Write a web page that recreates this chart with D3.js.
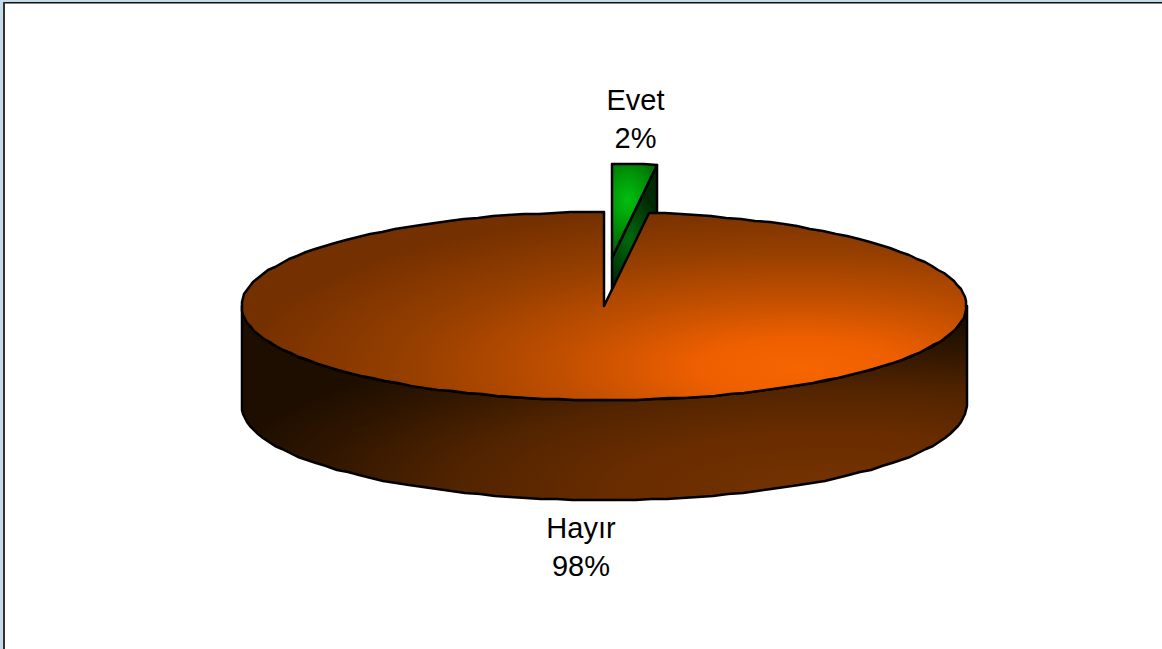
<!DOCTYPE html>
<html>
<head>
<meta charset="utf-8">
<title>Evet / Hayır</title>
<script src="https://cdn.jsdelivr.net/npm/d3@7"></script>
<style>
  html, body { margin: 0; padding: 0; background: #fff; overflow: hidden; }
  svg { display: block; }
  text { font-family: "Liberation Sans", Arial, sans-serif; font-size: 29px; fill: #000; text-anchor: middle; }
</style>
</head>
<body>
<div id="chart"></div>
<script>
// values, Evet first because it starts at 12 o'clock
const categories = ["Evet", "Hayır"];
const values = [2, 98];
const percentLabels = ["2%", "98%"];

const width = 1162;
const height = 649;

// the pie is a flattened circle, so one scale per direction
const centerX = 604, centerY = 306;
const radiusX = 362.5, radiusY = 94;
const depth = 100;
const x = d3.scaleLinear().domain([-1, 1]).range([centerX - radiusX, centerX + radiusX]);
const y = d3.scaleLinear().domain([-1, 1]).range([centerY + radiusY, centerY - radiusY]);

const slices = d3.pie().sort(null).value(d => d)(values);
const evet = slices[0];
const hayir = slices[1];

const svg = d3.select("#chart").append("svg")
  .attr("width", width)
  .attr("height", height)
  .attr("viewBox", [0, 0, width, height]);

const defs = svg.append("defs");

// gradients, the pie looks lit from the lower right
function radial(id, cx, cy, rx, ry, stops) {
  const g = defs.append("radialGradient")
    .attr("id", id)
    .attr("gradientUnits", "userSpaceOnUse")
    .attr("cx", 0).attr("cy", 0).attr("r", 1)
    .attr("gradientTransform", `translate(${cx},${cy}) scale(${rx},${ry})`);
  stops.forEach(s => g.append("stop").attr("offset", s[0]).attr("stop-color", s[1]));
}
radial("topFill", 800, 368, 560, 165, [[0, "#f66500"], [0.18, "#ee5f00"], [0.42, "#c24f00"], [0.7, "#963f00"], [1, "#753000"]]);
radial("wallFill", 830, 490, 620, 170, [[0, "#763300"], [0.35, "#682c00"], [0.6, "#522400"], [0.85, "#2e1500"], [1, "#1e0e00"]]);
radial("greenTop", 628, 200, 34, 48, [[0, "#00c010"], [0.5, "#009a08"], [1, "#006e04"]]);
radial("greenSide", 630, 240, 30, 50, [[0, "#006a0c"], [1, "#002a04"]]);

// frame of the slide, only the top and left edges are in the picture
svg.append("rect").attr("width", width).attr("height", 2).attr("fill", "#c6dce9");
svg.append("rect").attr("width", 3).attr("height", height).attr("fill", "#c6dce9");
svg.append("rect").attr("x", 3).attr("y", 2).attr("width", width - 3).attr("height", 1.5).attr("fill", "#111");
svg.append("rect").attr("x", 3).attr("y", 2).attr("width", 2).attr("height", height - 2).attr("fill", "#333");

// walks the rim in steps and snaps to whole pixels, the original edge is wobbly like that
function rim(a0, a1, dx = 0, dy = 0) {
  const step = 2.5 * Math.PI / 180;
  const angles = d3.range(a0, a1, step).concat([a1]);
  return angles.map(a => [Math.round(x(Math.sin(a))) + dx, Math.round(y(Math.cos(a))) + dy]);
}

const line = d3.line();
const edge = { stroke: "#000", "stroke-width": 2.5, "stroke-linejoin": "round" };
function outlined(sel) {
  Object.entries(edge).forEach(([k, v]) => sel.attr(k, v));
  return sel;
}

// exploded Evet slice goes first, Hayır covers most of it
const explodeX = 8, explodeY = -48;
const evetRim = rim(evet.startAngle, evet.endAngle, explodeX, explodeY);
const evetApex = [centerX + explodeX, centerY + explodeY];
const evetEnd = evetRim[evetRim.length - 1];

outlined(svg.append("path"))
  .attr("d", line([evetEnd, evetApex, [evetApex[0], evetApex[1] + depth], [evetEnd[0], evetEnd[1] + depth]]) + "Z")
  .attr("fill", "url(#greenSide)");
outlined(svg.append("path"))
  .attr("d", line([evetApex, ...evetRim]) + "Z")
  .attr("fill", "url(#greenTop)");

// wall of Hayır, only the front half of the rim shows
const frontTop = rim(Math.PI / 2, 3 * Math.PI / 2);
const frontBottom = rim(Math.PI / 2, 3 * Math.PI / 2, 0, depth).reverse();
outlined(svg.append("path"))
  .attr("d", line([...frontTop, ...frontBottom]) + "Z")
  .attr("fill", "url(#wallFill)");

// top of Hayır
outlined(svg.append("path"))
  .attr("d", line([[centerX, centerY], ...rim(hayir.startAngle, hayir.endAngle)]) + "Z")
  .attr("fill", "url(#topFill)");

// labels
const labelSpots = [{ x: 635.5, y: 110 }, { x: 581, y: 538 }];
const lineGap = 38;
categories.forEach((name, i) => {
  svg.append("text").attr("x", labelSpots[i].x).attr("y", labelSpots[i].y).text(name);
  svg.append("text").attr("x", labelSpots[i].x).attr("y", labelSpots[i].y + lineGap).text(percentLabels[i]);
});
</script>
</body>
</html>
